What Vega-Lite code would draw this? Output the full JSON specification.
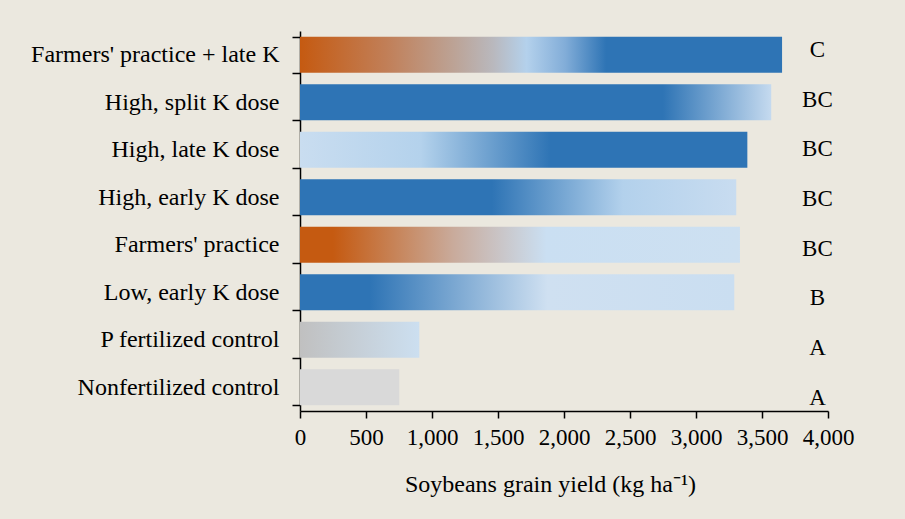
{
  "$schema": "https://vega.github.io/schema/vega-lite/v6.json",
  "width": 528,
  "height": 380,
  "autosize": {"type": "none"},
  "padding": {"left": 300, "top": 31, "right": 77, "bottom": 108},
  "background": "#EBE8DF",
  "config": {"view": {"stroke": null}, "font": "Liberation Serif"},
  "data": {
    "values": [
      {"treatment": "Farmers' practice + late K", "yield": 3652, "letter": "C"},
      {"treatment": "High, split K dose", "yield": 3570, "letter": "BC"},
      {"treatment": "High, late K dose", "yield": 3389, "letter": "BC"},
      {"treatment": "High, early K dose", "yield": 3305, "letter": "BC"},
      {"treatment": "Farmers' practice", "yield": 3333, "letter": "BC"},
      {"treatment": "Low, early K dose", "yield": 3290, "letter": "B"},
      {"treatment": "P fertilized control", "yield": 904, "letter": "A"},
      {"treatment": "Nonfertilized control", "yield": 752, "letter": "A"}
    ]
  },
  "layer": [
    {
      "mark": {"type": "bar"},
      "encoding": {
        "y": {
          "field": "treatment",
          "type": "nominal",
          "sort": ["Farmers' practice + late K", "High, split K dose", "High, late K dose", "High, early K dose", "Farmers' practice", "Low, early K dose", "P fertilized control", "Nonfertilized control"],
          "scale": {"paddingInner": 0.24, "paddingOuter": 0.12},
          "axis": {
            "title": null,
            "tickBand": "extent",
            "domainColor": "#000000",
            "domainWidth": 1.5,
            "tickColor": "#000000",
            "tickWidth": 1.5,
            "tickSize": 8,
            "labelFontSize": 24,
            "labelColor": "#000000",
            "labelPadding": 13,
            "labelLimit": 400,
            "grid": false
          }
        },
        "x": {
          "field": "yield",
          "type": "quantitative",
          "scale": {"domain": [0, 4000], "nice": false},
          "axis": {
            "values": [0, 500, 1000, 1500, 2000, 2500, 3000, 3500, 4000],
            "format": ",.0f",
            "grid": false,
            "domainColor": "#000000",
            "domainWidth": 1.5,
            "tickColor": "#000000",
            "tickWidth": 1.5,
            "tickSize": 7,
            "labelFontSize": 23,
            "labelColor": "#000000",
            "labelPadding": 8,
            "labelFlush": false,
            "title": "Soybeans grain yield (kg ha⁻¹)",
            "titleFontSize": 24,
            "titleFontWeight": "normal",
            "titleColor": "#000000",
            "titleX": 250,
            "titleY": 80,
            "titleAlign": "center",
            "titleBaseline": "alphabetic"
          }
        },
        "fill": {
          "condition": [
            {"test": "datum.treatment === \"Farmers' practice + late K\"", "value": {"gradient": "linear", "x1": 0, "x2": 1, "y1": 0, "y2": 0, "stops": [
              {"offset": 0, "color": "#C55A11"},
              {"offset": 0.18, "color": "#C17F58"},
              {"offset": 0.32, "color": "#BCA396"},
              {"offset": 0.4, "color": "#B9B8BD"},
              {"offset": 0.47, "color": "#B4D1EC"},
              {"offset": 0.55, "color": "#82ADD8"},
              {"offset": 0.635, "color": "#2E74B5"},
              {"offset": 1, "color": "#2E74B5"}]}},
            {"test": "datum.treatment === 'High, split K dose'", "value": {"gradient": "linear", "x1": 0, "x2": 1, "y1": 0, "y2": 0, "stops": [
              {"offset": 0, "color": "#2E74B5"},
              {"offset": 0.77, "color": "#2E74B5"},
              {"offset": 1, "color": "#C5DAEF"}]}},
            {"test": "datum.treatment === 'High, late K dose'", "value": {"gradient": "linear", "x1": 0, "x2": 1, "y1": 0, "y2": 0, "stops": [
              {"offset": 0, "color": "#C9DDF0"},
              {"offset": 0.27, "color": "#B4D2EC"},
              {"offset": 0.56, "color": "#2E74B5"},
              {"offset": 1, "color": "#2E74B5"}]}},
            {"test": "datum.treatment === 'High, early K dose'", "value": {"gradient": "linear", "x1": 0, "x2": 1, "y1": 0, "y2": 0, "stops": [
              {"offset": 0, "color": "#2E74B5"},
              {"offset": 0.44, "color": "#2E74B5"},
              {"offset": 0.74, "color": "#B3D1EC"},
              {"offset": 1, "color": "#C8DCF0"}]}},
            {"test": "datum.treatment === \"Farmers' practice\"", "value": {"gradient": "linear", "x1": 0, "x2": 1, "y1": 0, "y2": 0, "stops": [
              {"offset": 0, "color": "#C55A11"},
              {"offset": 0.075, "color": "#C55A11"},
              {"offset": 0.35, "color": "#C9AB9C"},
              {"offset": 0.56, "color": "#CADFF2"},
              {"offset": 1, "color": "#CDE0F1"}]}},
            {"test": "datum.treatment === 'Low, early K dose'", "value": {"gradient": "linear", "x1": 0, "x2": 1, "y1": 0, "y2": 0, "stops": [
              {"offset": 0, "color": "#2E74B5"},
              {"offset": 0.16, "color": "#2E74B5"},
              {"offset": 0.57, "color": "#CFE0F1"},
              {"offset": 1, "color": "#CADEF1"}]}},
            {"test": "datum.treatment === 'P fertilized control'", "value": {"gradient": "linear", "x1": 0, "x2": 1, "y1": 0, "y2": 0, "stops": [
              {"offset": 0, "color": "#C0C0C0"},
              {"offset": 1, "color": "#CCDFF0"}]}}
          ],
          "value": "#D9D9D9"
        }
      }
    },
    {
      "mark": {"type": "text", "fontSize": 23, "color": "#000000", "align": "center", "baseline": "middle"},
      "encoding": {
        "y": {
          "field": "treatment",
          "type": "nominal",
          "sort": ["Farmers' practice + late K", "High, split K dose", "High, late K dose", "High, early K dose", "Farmers' practice", "Low, early K dose", "P fertilized control", "Nonfertilized control"],
          "scale": {"type": "point", "padding": 0.322, "align": 0.59},
          "axis": null
        },
        "x": {"datum": 3920, "type": "quantitative"},
        "text": {"field": "letter"}
      }
    }
  ],
  "resolve": {"scale": {"y": "independent"}}
}
